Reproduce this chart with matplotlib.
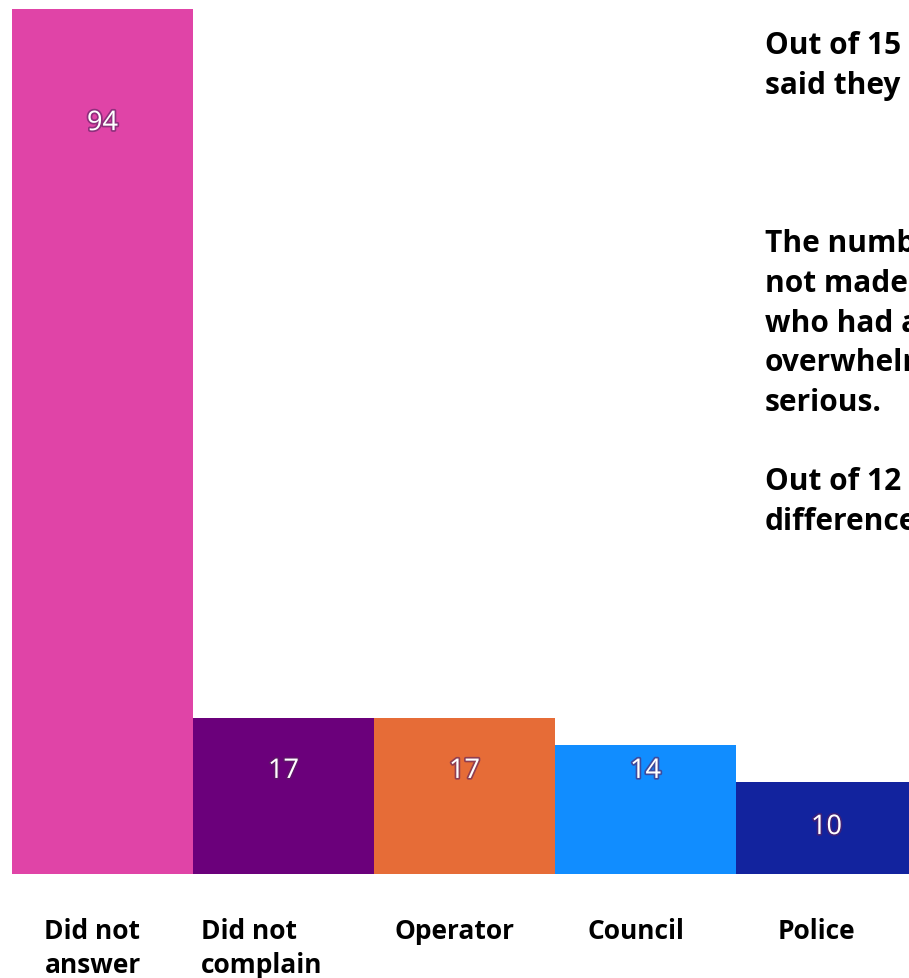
import matplotlib
matplotlib.use('Agg')
import matplotlib.pyplot as plt
import matplotlib.patheffects as pe
from matplotlib.transforms import ScaledTranslation

plt.rcParams['font.family'] = ['Open Sans', 'DejaVu Sans']

# data
categories = ['Did not\nanswer', 'Did not\ncomplain', 'Operator', 'Council', 'Police']
values = [94, 17, 17, 14, 10]
colors = ['#E044A7', '#6B007B', '#E66C37', '#118DFF', '#12239E']
# where the value label sits inside each bar (data units)
label_y = [81.6, 11.2, 11.2, 11.2, 5.1]

notes = [
    'Out of 15',
    'said they',
    '',
    '',
    '',
    'The number',
    'not made',
    'who had a',
    'overwhelming',
    'serious.',
    '',
    'Out of 12',
    'difference',
]

fig = plt.figure(figsize=(9.09, 9.79), dpi=100)
ax = fig.add_axes([12/909, 104/979, 905/909, 865/979])

x = range(len(values))
ax.bar(x, values, width=1.0, color=colors, edgecolor='none')

for i, v in enumerate(values):
    t = ax.text(i, label_y[i], str(v), ha='center', va='center',
                color='white', fontsize=19.5)
    t.set_path_effects([pe.withStroke(linewidth=2.5, foreground='#5a2060', alpha=0.6)])

ax.set_xlim(-0.5, 4.5)
ax.set_ylim(0, 94)
ax.set_xticks(list(x))
ax.set_xticklabels(categories, fontsize=19, fontweight='bold', multialignment='left',
                   linespacing=1.35)
ax.tick_params(axis='x', length=0, pad=31)
for i, lab in enumerate(ax.get_xticklabels()):
    dx = -22 if i == 1 else -10
    lab.set_transform(lab.get_transform() + ScaledTranslation(dx/100, 0, fig.dpi_scale_trans))
ax.set_yticks([])
for s in ax.spines.values():
    s.set_visible(False)

fig.text(765/909, 1 - 31/979, '\n'.join(notes), ha='left', va='top',
         fontsize=21.5, fontweight='bold', color='black', linespacing=1.42)

fig.savefig('out.png', dpi=100)
